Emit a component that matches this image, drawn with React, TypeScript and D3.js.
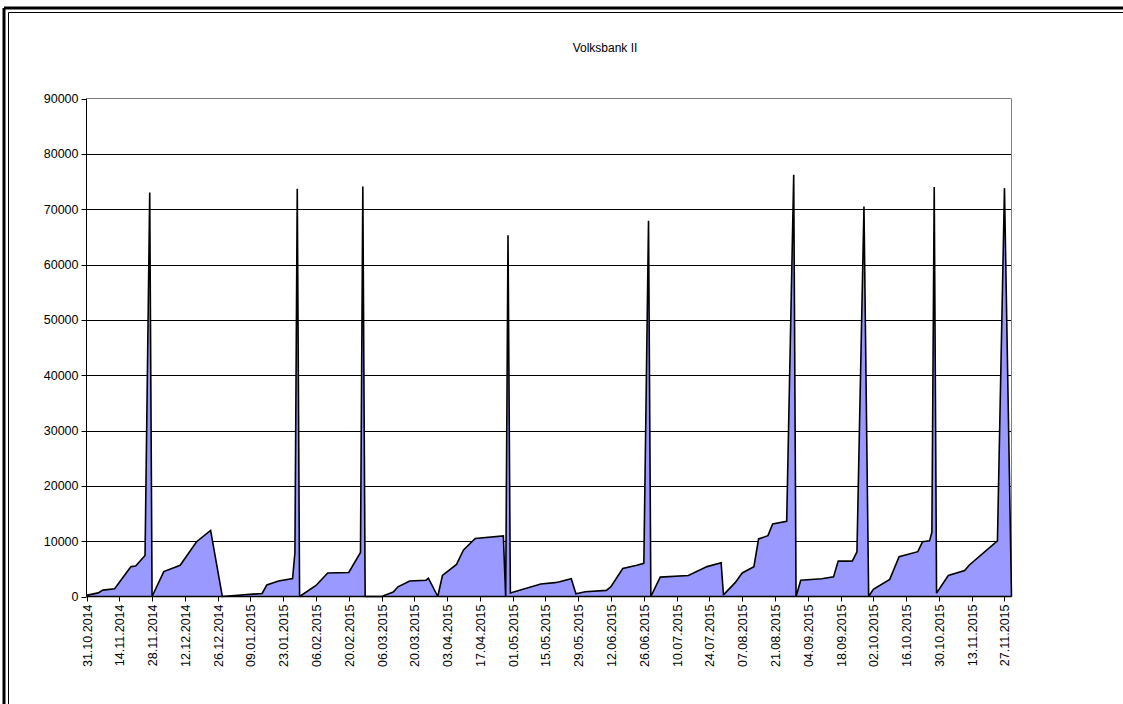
import React from "react";
import * as d3 from "d3";

// Volksbank II - daily values
const dates = [
  "31.10.2014", "05.11.2014", "07.11.2014", "12.11.2014", "19.11.2014", "21.11.2014", "25.11.2014", "27.11.2014", "28.11.2014",
  "03.12.2014", "10.12.2014", "17.12.2014", "23.12.2014", "28.12.2014",
  "14.01.2015", "16.01.2015", "21.01.2015", "27.01.2015", "28.01.2015", "29.01.2015", "30.01.2015",
  "06.02.2015", "11.02.2015", "20.02.2015", "25.02.2015", "26.02.2015", "27.02.2015",
  "06.03.2015", "11.03.2015", "13.03.2015", "18.03.2015", "25.03.2015", "26.03.2015", "30.03.2015",
  "01.04.2015", "07.04.2015", "10.04.2015", "15.04.2015", "27.04.2015", "28.04.2015", "29.04.2015", "30.04.2015",
  "13.05.2015", "19.05.2015", "21.05.2015", "26.05.2015", "28.05.2015",
  "01.06.2015", "10.06.2015", "12.06.2015", "17.06.2015", "23.06.2015", "26.06.2015", "28.06.2015", "29.06.2015",
  "03.07.2015", "15.07.2015", "23.07.2015", "29.07.2015", "30.07.2015",
  "04.08.2015", "07.08.2015", "12.08.2015", "14.08.2015", "18.08.2015", "20.08.2015", "26.08.2015", "29.08.2015", "30.08.2015",
  "01.09.2015", "10.09.2015", "15.09.2015", "17.09.2015", "23.09.2015", "25.09.2015", "28.09.2015", "30.09.2015",
  "02.10.2015", "09.10.2015", "13.10.2015", "21.10.2015", "23.10.2015", "26.10.2015", "27.10.2015", "28.10.2015", "29.10.2015",
  "03.11.2015", "10.11.2015", "12.11.2015", "24.11.2015", "27.11.2015", "30.11.2015",
];

const values = [
  200, 650, 1150, 1400, 5400, 5500, 7400, 73000, 0,
  4500, 5650, 9900, 11950, 0,
  550, 2100, 2800, 3250, 7900, 73700, 0,
  2000, 4250, 4350, 7950, 74100, 0,
  0, 800, 1750, 2800, 2950, 3300, 0,
  3800, 5800, 8400, 10500, 10950, 0, 65300, 650,
  2250, 2500, 2650, 3200, 500,
  850, 1100, 1800, 5050, 5650, 6000, 67900, 0,
  3500, 3800, 5400, 6100, 300,
  2500, 4250, 5400, 10400, 11000, 13100, 13600, 76200, 0,
  2950, 3200, 3550, 6400, 6400, 8050, 70500, 0,
  1300, 3100, 7200, 8100, 9900, 10050, 11600, 74000, 600,
  3800, 4700, 5700, 10050, 73800, 0,
];

const tickLabels = [
  "31.10.2014", "14.11.2014", "28.11.2014", "12.12.2014", "26.12.2014", "09.01.2015", "23.01.2015",
  "06.02.2015", "20.02.2015", "06.03.2015", "20.03.2015", "03.04.2015", "17.04.2015", "01.05.2015",
  "15.05.2015", "29.05.2015", "12.06.2015", "26.06.2015", "10.07.2015", "24.07.2015", "07.08.2015",
  "21.08.2015", "04.09.2015", "18.09.2015", "02.10.2015", "16.10.2015", "30.10.2015", "13.11.2015",
  "27.11.2015",
];

const yTicks = [0, 10000, 20000, 30000, 40000, 50000, 60000, 70000, 80000, 90000];

const title = "Volksbank II";

const font = "'Liberation Sans', Arial, sans-serif";

const App = () => {
  const parse = d3.utcParse("%d.%m.%Y");
  const data = dates.map((d, i) => ({ date: parse(d) as Date, value: values[i] }));

  const left = 86.5;
  const right = 1011.5;
  const top = 98.5;
  const bottom = 596.5;

  const x = d3
    .scaleUtc()
    .domain([parse("31.10.2014") as Date, parse("30.11.2015") as Date])
    .range([left, right]);

  const y = d3.scaleLinear().domain([0, 90000]).range([bottom, top]);

  const area = d3
    .area<{ date: Date; value: number }>()
    .x((d) => x(d.date))
    .y0(y(0))
    .y1((d) => y(d.value));

  const line = d3
    .line<{ date: Date; value: number }>()
    .x((d) => x(d.date))
    .y((d) => y(d.value));

  return (
    <svg
      width={1123}
      height={704}
      style={{ position: "absolute", left: 0, top: 0, background: "#fff" }}
      fontFamily={font}
    >
      <rect x={0} y={0} width={1123} height={704} fill="#fff" />

      {/* outer double frame */}
      <line x1={4} y1={8} x2={1123} y2={8} stroke="#000" strokeWidth={3} />
      <line x1={4} y1={8} x2={4} y2={704} stroke="#000" strokeWidth={3} />
      <line x1={8.5} y1={12.5} x2={1123} y2={12.5} stroke="#000" strokeWidth={1} />
      <line x1={8.5} y1={12.5} x2={8.5} y2={704} stroke="#000" strokeWidth={1} />

      <text x={605} y={52} textAnchor="middle" fontSize={12} fill="#000">
        {title}
      </text>

      {/* grid */}
      {yTicks.map((t) => (
        <g key={t}>
          {t > 0 && t < 90000 && (
            <line x1={left} x2={right} y1={Math.round(y(t)) + 0.5} y2={Math.round(y(t)) + 0.5} stroke="#000" strokeWidth={1} />
          )}
          <line x1={left - 5} x2={left} y1={Math.round(y(t)) + 0.5} y2={Math.round(y(t)) + 0.5} stroke="#000" />
          <text x={left - 8} y={y(t)} dy="0.35em" textAnchor="end" fontSize={12.5} fill="#000">
            {t}
          </text>
        </g>
      ))}

      {/* plot border top/right */}
      <line x1={left} x2={right} y1={top} y2={top} stroke="#808080" />
      <line x1={right} x2={right} y1={top} y2={bottom} stroke="#808080" />

      <path d={area(data) || ""} fill="#9999ff" />
      <path d={line(data) || ""} fill="none" stroke="#000" strokeWidth={1.6} strokeLinejoin="miter" strokeMiterlimit={2} />

      {/* axes */}
      <line x1={left} x2={left} y1={top} y2={bottom} stroke="#000" />
      <line x1={left} x2={right} y1={bottom} y2={bottom} stroke="#000" strokeWidth={1.5} />

      {tickLabels.map((t) => {
        const tx = Math.round(x(parse(t) as Date)) + 0.5;
        return (
          <g key={t}>
            <line x1={tx} x2={tx} y1={bottom} y2={bottom + 5} stroke="#000" />
            <text
              transform={`translate(${tx},${bottom + 8}) rotate(-90)`}
              dy="0.35em"
              textAnchor="end"
              fontSize={12.5}
              fill="#000"
            >
              {t}
            </text>
          </g>
        );
      })}
    </svg>
  );
};

export default App;
